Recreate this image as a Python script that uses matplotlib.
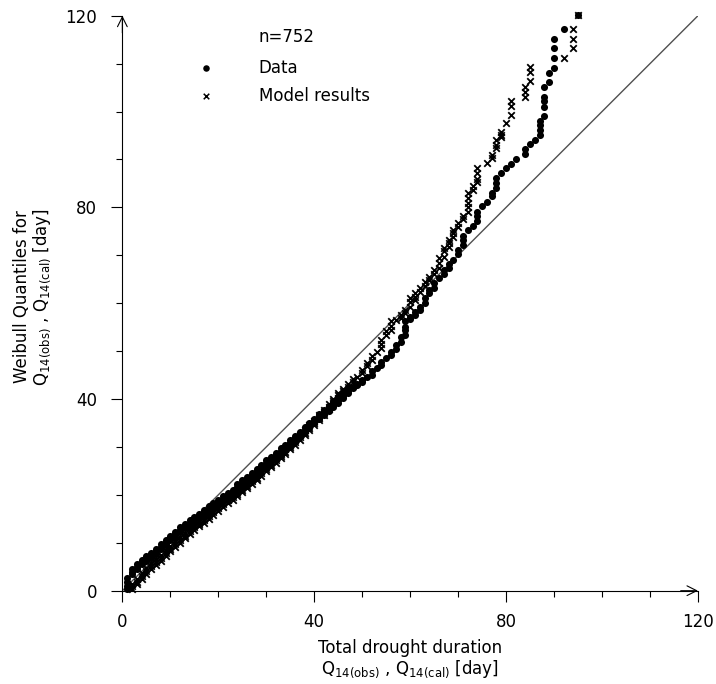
import matplotlib.pyplot as plt
from matplotlib.ticker import MultipleLocator

plt.rcParams["font.family"] = "DejaVu Sans"
plt.rcParams["mathtext.default"] = "regular"

N_LABEL = "n=752"

# observed durations (x) and their Weibull quantiles (y)
DATA_X = [
    1, 1, 1, 1, 2, 2, 2, 3, 3, 3, 4, 4, 4, 5, 5, 5, 6, 6, 6, 7, 7, 7,
    8, 8, 8, 9, 9, 9, 10, 10, 10, 11, 11, 11, 12, 12, 12, 13, 13, 13,
    14, 14, 14, 15, 15, 15, 16, 16, 16, 17, 17, 17, 18, 18, 18,
    19, 19, 19, 20, 20, 20, 21, 21, 21, 22, 22, 22, 23, 23, 23,
    24, 24, 24, 25, 25, 25, 26, 26, 26, 27, 27, 27, 28, 28, 28,
    29, 29, 29, 30, 30, 30, 31, 31, 31, 32, 32, 32, 33, 33, 33,
    34, 34, 34, 35, 35, 35, 36, 36, 36, 37, 37, 37, 38, 38, 38,
    39, 39, 39, 40, 40, 40, 41, 41, 41, 42, 42, 42, 43, 43, 43,
    44, 44, 44, 45, 45, 45, 46, 46, 46, 47, 47, 47, 48, 48, 49, 49, 50, 50,
    51, 52, 52, 53, 54, 54, 55, 56, 56, 57, 57, 58, 58, 59, 59, 59, 59,
    60, 60, 61, 61, 62, 62, 63, 63, 64, 64, 65, 65, 66, 67, 67, 68, 68, 69,
    70, 70, 71, 71, 71, 72, 73, 74, 74, 74, 75, 76, 77, 77, 78, 78, 78,
    79, 80, 81, 82, 84, 84, 85, 86, 87, 87, 87, 87, 88, 88, 88, 88, 88,
    89, 89, 90, 90, 90, 90, 92, 95,
]
DATA_Y = [
    0.3, 1.0, 1.8, 2.6, 3.5, 4.0, 4.5, 4.5, 5.0, 5.5, 5.5, 6.0, 6.5, 6.2, 6.7, 7.2,
    6.8, 7.3, 7.8, 7.7, 8.2, 8.7,
    8.7, 9.2, 9.7, 9.6, 10.1, 10.6, 10.5, 11.0, 11.5, 11.3, 11.8, 12.3,
    12.2, 12.7, 13.2, 13.0, 13.5, 14.0,
    13.7, 14.2, 14.7, 14.4, 14.9, 15.4, 15.1, 15.6, 16.1, 15.8, 16.3, 16.8,
    16.6, 17.1, 17.6,
    17.3, 17.8, 18.3, 18.0, 18.5, 19.0, 18.7, 19.2, 19.7, 19.4, 19.9, 20.4,
    20.1, 20.6, 21.1,
    21.2, 21.7, 22.2, 22.0, 22.5, 23.0, 22.8, 23.3, 23.8, 23.6, 24.1, 24.6,
    24.4, 24.9, 25.4,
    25.3, 25.8, 26.3, 26.2, 26.7, 27.2, 27.0, 27.5, 28.0, 27.8, 28.3, 28.8,
    28.7, 29.2, 29.7,
    29.5, 30.0, 30.5, 30.4, 30.9, 31.4, 31.3, 31.8, 32.3, 32.2, 32.7, 33.2,
    33.1, 33.6, 34.1,
    34.0, 34.5, 35.0, 34.9, 35.4, 35.9, 35.8, 36.3, 36.8, 36.7, 37.2, 37.7,
    37.6, 38.1, 38.6,
    38.4, 38.9, 39.4, 39.2, 39.7, 40.2, 40.2, 40.6, 41.0, 41.2, 41.6, 42.0,
    42.3, 42.6, 42.9, 43.2, 43.5, 44.0,
    44.5, 45.0, 45.8, 46.5, 47.1, 47.8, 48.5, 49.2, 49.9, 50.5, 51.3, 52.0, 53.0,
    53.4, 54.4, 55.1, 56.2,
    56.7, 57.2, 57.6, 58.2, 58.6, 59.3, 60.0, 61.0, 62.1, 62.8, 63.1, 64.2, 65.2,
    66.0, 66.9, 67.3, 68.2, 69.1,
    70.3, 71.2, 72.2, 73.1, 74.1, 75.2, 76.1, 77.1, 78.1, 79.1, 80.2, 81.2,
    82.3, 83.0, 84.0, 85.1, 86.1,
    87.1, 88.2, 89.1, 90.1, 91.2, 92.2, 93.2, 94.1, 95.1, 96.1, 97.1, 98.1,
    99.1, 101.0, 102.1, 103.1, 105.1,
    106.1, 108.1, 109.1, 111.2, 113.2, 115.2, 117.2, 120.2,
]

# model durations (x) against the same quantiles (y)
MODEL_X = [
    2, 2, 2, 3, 3, 3, 4, 4, 4, 5, 5, 5, 6, 6, 6, 7, 7, 7,
    8, 8, 8, 9, 9, 9, 10, 10, 10, 11, 11, 11, 12, 12, 12, 13, 13, 13,
    14, 14, 14, 15, 15, 15, 16, 16, 16, 17, 17, 17, 18, 18, 18,
    19, 19, 19, 20, 20, 20, 21, 21, 21, 22, 22, 22, 23, 23, 23,
    24, 24, 24, 25, 25, 25, 26, 26, 26, 27, 27, 27, 28, 28, 28,
    29, 29, 29, 30, 30, 30, 31, 31, 31, 32, 32, 32, 33, 33, 33,
    34, 34, 34, 35, 35, 35, 36, 36, 36, 37, 37, 37, 38, 38, 38,
    39, 39, 39, 40, 40, 40, 41, 41, 41, 42, 42, 42, 43, 43, 43,
    44, 44, 44, 45, 45, 45, 46, 46, 47, 47, 48, 48, 49, 50, 50,
    51, 51, 52, 52, 53, 54, 54, 54, 55, 55, 56, 56, 56, 57, 58, 58, 59, 59,
    60, 60, 60, 61, 61, 61, 62, 62, 63, 63, 64, 64, 65, 65, 66, 66, 66,
    67, 67, 67, 68, 68, 68, 69, 69, 69, 70, 70, 71, 71,
    72, 72, 72, 72, 72, 73, 73, 74, 74, 74, 74, 76,
    77, 77, 78, 78, 78, 79, 79, 79, 80, 81, 81, 81, 84, 84, 84, 85, 85, 85,
    92, 94, 94, 94, 95,
]
MODEL_Y = [
    0.3, 0.9, 1.5, 1.3, 1.9, 2.5, 2.4, 3.0, 3.6, 3.5, 4.1, 4.7, 4.5, 5.1, 5.7,
    5.4, 6.0, 6.6,
    6.3, 6.9, 7.5, 7.2, 7.8, 8.4, 8.2, 8.8, 9.4, 9.1, 9.7, 10.3, 10.0, 10.6, 11.2,
    10.9, 11.5, 12.1,
    11.8, 12.4, 13.0, 12.6, 13.2, 13.8, 13.4, 14.0, 14.6, 14.2, 14.8, 15.4,
    15.0, 15.6, 16.2,
    15.9, 16.5, 17.1, 16.7, 17.3, 17.9, 17.5, 18.1, 18.7, 18.3, 18.9, 19.5,
    19.0, 19.6, 20.2,
    19.7, 20.2, 20.7, 20.6, 21.1, 21.6, 21.4, 21.9, 22.4, 22.3, 22.8, 23.3,
    23.1, 23.6, 24.1,
    24.0, 24.5, 25.0, 24.9, 25.4, 25.9, 25.8, 26.3, 26.8, 26.7, 27.2, 27.7,
    27.6, 28.1, 28.6,
    28.5, 29.0, 29.5, 29.5, 30.0, 30.5, 30.5, 31.0, 31.5, 31.5, 32.0, 32.5,
    32.5, 33.0, 33.5,
    33.5, 34.0, 34.5, 34.5, 35.0, 35.5, 35.6, 36.1, 36.6, 36.7, 37.2, 37.7,
    37.9, 38.4, 38.9,
    39.1, 39.6, 40.1, 40.3, 40.8, 41.3, 41.6, 42.1, 42.6, 43.1, 43.6, 44.2,
    44.7, 45.4, 46.1,
    46.8, 47.5, 48.2, 48.9, 49.9, 50.6, 51.4, 52.3, 53.4, 54.1, 54.4, 55.3, 56.2,
    56.5, 56.9, 57.6, 57.9, 58.6,
    59.3, 60.2, 61.0, 60.7, 61.4, 62.1, 62.4, 63.1, 63.6, 64.5, 64.9, 65.5,
    66.0, 67.0, 67.3, 68.3, 69.4,
    69.7, 70.8, 71.5, 71.8, 72.5, 73.2, 73.9, 74.6, 75.3, 75.9, 76.8, 77.6, 78.2,
    79.1, 80.0, 81.0, 82.0, 83.0, 83.6, 84.5, 85.4, 86.0, 87.2, 88.2, 89.2,
    90.3, 91.0, 92.4, 93.0, 94.1, 94.6, 95.1, 95.8, 97.7, 99.2, 101.2, 102.1,
    103.1, 104.1, 105.2, 106.3, 108.3, 109.3,
    111.1, 113.2, 115.2, 117.2, 120.2,
]

AX_MAX = 120

fig = plt.figure(figsize=(7.16, 6.84), dpi=100)
ax = fig.add_axes([0.1709, 0.1364, 0.8039, 0.8406])

ax.plot([0, AX_MAX], [0, AX_MAX], color="#505050", lw=1.0, zorder=1)
ax.scatter(DATA_X, DATA_Y, s=26, color="black", marker="o", linewidths=0, zorder=3, clip_on=False)
ax.scatter(MODEL_X, MODEL_Y, s=22, color="black", marker="x", linewidths=1.3, zorder=4, clip_on=False)

ax.set_xlim(0, AX_MAX)
ax.set_ylim(0, AX_MAX)
ax.xaxis.set_major_locator(MultipleLocator(40))
ax.yaxis.set_major_locator(MultipleLocator(40))
ax.xaxis.set_minor_locator(MultipleLocator(10))
ax.yaxis.set_minor_locator(MultipleLocator(10))
ax.tick_params(which="major", direction="out", length=8, width=0.8, labelsize=12, colors="black")
ax.tick_params(axis="x", which="major", pad=8)
ax.tick_params(axis="y", which="major", pad=10)
ax.tick_params(which="minor", direction="out", length=4, width=0.8)

for side in ["top", "right"]:
    ax.spines[side].set_visible(False)
for side in ["left", "bottom"]:
    ax.spines[side].set_linewidth(0.8)

# arrow heads at the axis ends
arrow = dict(arrowstyle="->,head_length=0.7,head_width=0.35", lw=0.8, color="black", shrinkA=0, shrinkB=0)
ax.annotate("", xy=(1, 0), xytext=(0.97, 0), xycoords="axes fraction", arrowprops=arrow)
ax.annotate("", xy=(0, 1), xytext=(0, 0.97), xycoords="axes fraction", arrowprops=arrow)

fig.text(0.5726, 0.036, "Total drought duration\n" + r"Q$_{14(obs)}$ , Q$_{14(cal)}$ [day]",
         fontsize=12, ha="center", va="center", linespacing=1.1)
fig.text(0.046, 0.566, "Weibull Quantiles for\n" + r"Q$_{14(obs)}$ , Q$_{14(cal)}$ [day]",
         fontsize=12, ha="center", va="center", rotation=90, linespacing=1.05)

# hand-made legend
ax.text(0.237, 0.963, N_LABEL, transform=ax.transAxes, fontsize=12, va="center", ha="left")
ax.scatter([0.145], [0.909], s=22, color="black", marker="o", linewidths=0, transform=ax.transAxes, clip_on=False)
ax.text(0.237, 0.909, "Data", transform=ax.transAxes, fontsize=12, va="center", ha="left")
ax.scatter([0.145], [0.860], s=16, color="black", marker="x", linewidths=1.1, transform=ax.transAxes, clip_on=False)
ax.text(0.237, 0.860, "Model results", transform=ax.transAxes, fontsize=12, va="center", ha="left")

fig.savefig("out.png", dpi=100)
